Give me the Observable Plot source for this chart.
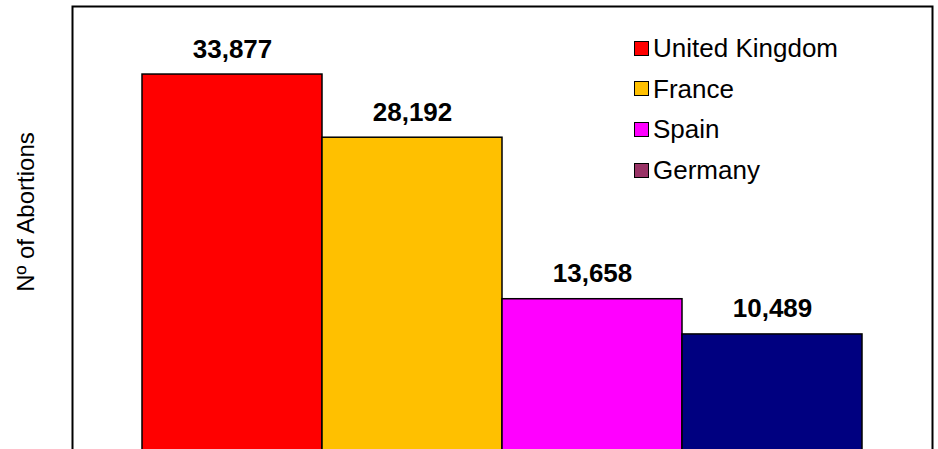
<!DOCTYPE html>
<html>
<head>
<meta charset="utf-8">
<script src="https://cdn.jsdelivr.net/npm/d3@7"></script>
<script src="https://cdn.jsdelivr.net/npm/@observablehq/plot@0.6"></script>
<style>
  html, body { margin: 0; padding: 0; background: white; overflow: hidden; }
  #chart { position: relative; width: 938px; height: 449px; overflow: hidden; font-family: "Liberation Sans", Arial, sans-serif; }
  #legend { position: absolute; left: 634px; top: 27.8px; }
  .row { display: flex; align-items: center; height: 40.8px; }
  .sw { width: 15px; height: 15px; box-sizing: border-box; border: 1.5px solid #000; margin-right: 4px; }
  .lb { font-size: 26px; line-height: 40.8px; color: #000; white-space: nowrap; }
  #ylabel { position: absolute; left: -74px; top: 200px; width: 200px; height: 24px; line-height: 24px;
            font-size: 24px; text-align: center; color: #000; transform: rotate(-90deg); transform-origin: 50% 50%; white-space: nowrap; }
</style>
</head>
<body>
<div id="chart"></div>
<script>
const countries = ["United Kingdom", "France", "Spain", "Germany"];
const abortions = [33877, 28192, 13658, 10489];
const valueLabels = ["33,877", "28,192", "13,658", "10,489"];
const barColors = ["#FF0000", "#FFC000", "#FF00FF", "#000080"];
const legendColors = ["#FF0000", "#FFC000", "#FF00FF", "#993366"];
const yLabel = "Nº of Abortions";
const yDomain = [0, 40000];

const data = countries.map((c, i) => ({country: c, value: abortions[i], label: valueLabels[i]}));
const font = "'Liberation Sans', Arial, sans-serif";

const chart = Plot.plot({
  width: 938,
  height: 452,
  marginLeft: 72,
  marginRight: 6,
  marginTop: 6,
  marginBottom: 1.5,
  style: {fontFamily: font, background: "white", overflow: "hidden"},
  x: {domain: countries, paddingInner: 0, paddingOuter: 0.3757, axis: null},
  y: {domain: yDomain, axis: null},
  color: {domain: countries, range: barColors},
  marks: [
    Plot.barY(data, {x: "country", y: "value", fill: "country", stroke: "black", strokeWidth: 1.5}),
    Plot.text(data, {x: "country", y: "value", text: "label", lineAnchor: "bottom", dy: -17,
      fontSize: 26, fontWeight: "bold", fill: "black"}),
    Plot.frame({stroke: "black", strokeWidth: 2})
  ]
});

const container = document.getElementById("chart");
container.appendChild(chart);

const yl = document.createElement("div");
yl.id = "ylabel";
yl.textContent = yLabel;
container.appendChild(yl);

const legend = document.createElement("div");
legend.id = "legend";
countries.forEach((c, i) => {
  const row = document.createElement("div");
  row.className = "row";
  const sw = document.createElement("div");
  sw.className = "sw";
  sw.style.background = legendColors[i];
  const lb = document.createElement("span");
  lb.className = "lb";
  lb.textContent = c;
  row.appendChild(sw);
  row.appendChild(lb);
  legend.appendChild(row);
});
container.appendChild(legend);
</script>
</body>
</html>
